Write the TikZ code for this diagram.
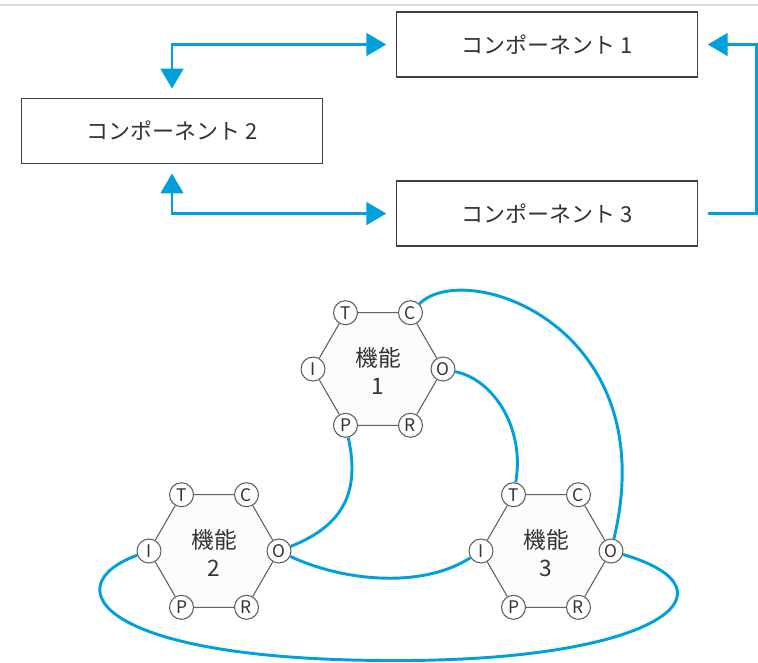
\documentclass[tikz,border=0pt]{standalone}
\usepackage{fontspec}
\setmainfont{Noto Sans CJK JP}
\usetikzlibrary{arrows.meta}
\definecolor{linkblue}{RGB}{0, 160, 221}
\definecolor{boxline}{RGB}{64, 64, 64}
\definecolor{hexline}{RGB}{96, 96, 96}
\definecolor{rulegrey}{RGB}{221, 221, 221}

\tikzset{
  compbox/.style={draw=boxline, line width=1.1pt, fill=white,
    minimum width=226pt, minimum height=48.5pt, text=black!80,
    font=\fontsize{16.5}{18}\selectfont},
  bigtri/.tip={Triangle[length=15pt, width=17pt]},
  link/.style={draw=linkblue, line width=2.2pt, shorten <=7pt, shorten >=7pt},
  port/.style={circle, draw=hexline, fill=white, line width=0.8pt,
    minimum size=18pt, inner sep=0pt, text=black!80,
    font=\fontsize{13}{14}\selectfont},
  hexedge/.style={draw=hexline, line width=0.8pt},
  wire/.style={draw=linkblue, line width=2.2pt},
}

\begin{document}
\begin{tikzpicture}[x=0.75pt, y=-0.75pt]
        \useasboundingbox (0,0) rectangle (758,662);
        \draw[rulegrey, line width=1.5pt] (0,5) -- (758,5);

        % components
        \node[compbox] (comp1) at (547,44.5) {コンポーネント 1};
        \node[compbox] (comp2) at (172,131) {コンポーネント 2};
        \node[compbox] (comp3) at (547,213.5) {コンポーネント 3};
        \coordinate (rbend) at (756.5,44.5);

        \draw[link, {bigtri}-{bigtri}] (comp2.north) |- (comp1.west);
        \draw[link, {bigtri}-{bigtri}] (comp2.south) |- (comp3.west);
        \draw[link, -{bigtri}] (comp3.east) -| (rbend) -- (comp1.east);

        % functions
        \foreach \n/\cx/\cy in {1/378/369, 2/214/551, 3/546/551} {
          \fill[black!1] (\cx+65,\cy) -- (\cx+32.5,\cy-56.3)
            -- (\cx-32.5,\cy-56.3) -- (\cx-65,\cy)
            -- (\cx-32.5,\cy+56.3) -- (\cx+32.5,\cy+56.3) -- cycle;
          \node[port] (O\n) at (\cx+65,\cy) {O};
          \node[port] (C\n) at (\cx+32.5,\cy-56.3) {C};
          \node[port] (T\n) at (\cx-32.5,\cy-56.3) {T};
          \node[port] (I\n) at (\cx-65,\cy) {I};
          \node[port] (P\n) at (\cx-32.5,\cy+56.3) {P};
          \node[port] (R\n) at (\cx+32.5,\cy+56.3) {R};
          \draw[hexedge] (T\n) -- (C\n) -- (O\n) -- (R\n) -- (P\n) -- (I\n) -- (T\n);
          \node[align=center, text=black!80, font=\fontsize{17}{21}\selectfont]
            (func\n) at (\cx,\cy+2) {機能\\\n};
        }

        % wiring
        \coordinate (loopbot) at (390,660.5);
        \draw[wire] (C1) .. controls (465,258) and (665,325) .. (O3);
        \draw[wire] (O1) .. controls (495,380) and (525,430) .. (T3);
        \draw[wire] (P1) .. controls (360,490) and (345,525) .. (O2);
        \draw[wire] (O2) .. controls (340,580) and (420,590) .. (I3);
        \draw[wire] (I2) .. controls (55,585) and (95,660) .. (loopbot)
          .. controls (660,662) and (745,590) .. (O3);
      \end{tikzpicture}
\end{document}
